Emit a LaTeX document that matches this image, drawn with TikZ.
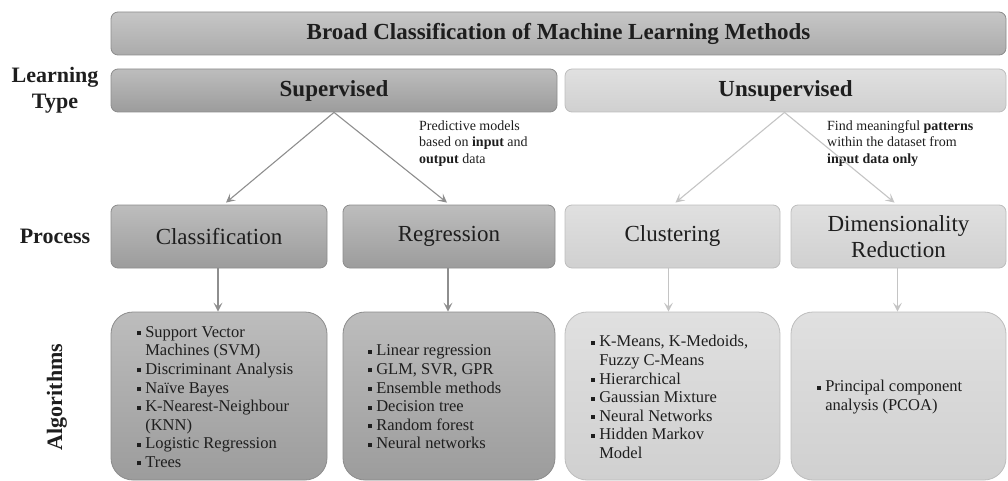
\documentclass[tikz,border=0pt]{standalone}
\usepackage{fontspec}
\setmainfont{Liberation Serif}
\usetikzlibrary{arrows.meta}
\definecolor{txt}{HTML}{1E1E1E}
\definecolor{supTop}{HTML}{BDBDBD}
\definecolor{supBot}{HTML}{9C9C9C}
\definecolor{supLine}{HTML}{8C8C8C}
\definecolor{titTop}{HTML}{C6C6C6}
\definecolor{titBot}{HTML}{ABABAB}
\definecolor{unTop}{HTML}{E0E0E0}
\definecolor{unBot}{HTML}{D0D0D0}
\definecolor{unLine}{HTML}{BDBDBD}
\definecolor{supArrow}{HTML}{8E8E8E}
\definecolor{unArrow}{HTML}{C4C4C4}
\newcommand{\sqb}{\raisebox{0.28ex}{\rule{0.24em}{0.24em}}}
\newcommand{\hang}{\phantom{\sqb\ }}
\tikzset{
  box/.style={draw, line width=0.8pt, inner sep=0pt, align=center, text=txt},
  titlebox/.style={box, draw=supLine, top color=titTop, bottom color=titBot, rounded corners=7pt},
  supbox/.style={box, draw=supLine, top color=supTop, bottom color=supBot, rounded corners=7pt},
  unbox/.style={box, draw=unLine, top color=unTop, bottom color=unBot, rounded corners=7pt},
  supalg/.style={box, draw=supLine, top color=supTop, bottom color=supBot, rounded corners=22pt},
  unalg/.style={box, draw=unLine, top color=unTop, bottom color=unBot, rounded corners=22pt},
  procfont/.style={font=\fontsize{23}{26}\selectfont},
  headfont/.style={font=\fontsize{23}{26}\selectfont\bfseries},
  listtext/.style={anchor=west, inner sep=0pt, align=left, text=txt, font=\fontsize{16.5}{18.6}\selectfont},
  note/.style={anchor=west, inner sep=0pt, align=left, text=txt, font=\fontsize{14}{16.5}\selectfont},
  sidelabel/.style={inner sep=0pt, align=center, text=txt, font=\fontsize{22}{26}\selectfont\bfseries},
  suparrow/.style={draw=supArrow, line width=1.1pt, -{Stealth[length=9pt,width=9pt,inset=4pt]}},
  unarrow/.style={draw=unArrow, line width=1.1pt, -{Stealth[length=9pt,width=9pt,inset=4pt]}},
}
\begin{document}
\begin{tikzpicture}[x=1pt,y=-1pt]
\useasboundingbox (0,0) rectangle (1008,481);
% top rows
\node[titlebox, headfont, minimum width=895, minimum height=43] (title) at (558.5,33.5) {Broad Classification of Machine Learning Methods};
\node[supbox, headfont, minimum width=446, minimum height=43] (sup) at (334,90.5) {Supervised};
\node[unbox, headfont, minimum width=441, minimum height=43] (uns) at (785.5,90.5) {Unsupervised};
% process
\node[supbox, procfont, minimum width=216, minimum height=63] (cls) at (219,236.5) {Classification};
\node[supbox, procfont, minimum width=212, minimum height=63] (reg) at (449,236.5) {Regression};
\node[unbox, procfont, minimum width=215, minimum height=63] (clu) at (672.5,236.5) {Clustering};
\node[unbox, procfont, minimum width=215, minimum height=63] (dim) at (898.5,236.5) {Dimensionality\\Reduction};
% algorithms
\node[supalg, minimum width=216, minimum height=168] (clsalg) at (219,396) {};
\node[supalg, minimum width=212, minimum height=168] (regalg) at (449,396) {};
\node[unalg, minimum width=215, minimum height=168] (clualg) at (672.5,396) {};
\node[unalg, minimum width=215, minimum height=168] (dimalg) at (898.5,396) {};
\node[listtext] (clslist) at (137,397) {\sqb\ Support Vector\\ \hang Machines (SVM)\\ \sqb\ Discriminant Analysis\\ \sqb\ Naïve Bayes\\ \sqb\ K-Nearest-Neighbour\\ \hang (KNN)\\ \sqb\ Logistic Regression\\ \sqb\ Trees};
\node[listtext] (reglist) at (368,397) {\sqb\ Linear regression\\ \sqb\ GLM, SVR, GPR\\ \sqb\ Ensemble methods\\ \sqb\ Decision tree\\ \sqb\ Random forest\\ \sqb\ Neural networks};
\node[listtext] (clulist) at (591,397) {\sqb\ K-Means, K-Medoids,\\ \hang Fuzzy C-Means\\ \sqb\ Hierarchical\\ \sqb\ Gaussian Mixture\\ \sqb\ Neural Networks\\ \sqb\ Hidden Markov\\ \hang Model};
\node[listtext] (dimlist) at (817,397) {\sqb\ Principal component\\ \hang analysis (PCOA)};
% side labels
\node[sidelabel] (lt) at (55,90) {Learning\\Type};
\node[sidelabel] (pr) at (55,236) {Process};
\node[sidelabel, rotate=90] (al) at (57,397) {Algorithms};
% notes
\node[note] (n1) at (419,143.5) {Predictive models\\based on \textbf{input} and\\\textbf{output} data};
\node[note] (n2) at (827,143.5) {Find meaningful \textbf{patterns}\\within the dataset from\\\textbf{input data only}};
% arrows
\draw[suparrow] (sup.south) -- ([xshift=7pt,yshift=2pt]cls.north);
\draw[suparrow] (sup.south) -- ([xshift=-2pt,yshift=2pt]reg.north);
\draw[unarrow] ([xshift=-1pt]uns.south) -- ([xshift=3pt,yshift=2pt]clu.north);
\draw[unarrow] ([xshift=-1pt]uns.south) -- ([xshift=-4pt,yshift=2pt]dim.north);
\draw[suparrow] ([xshift=-1pt]cls.south) -- ([xshift=-1pt]clsalg.north);
\draw[suparrow] ([xshift=-1pt]reg.south) -- ([xshift=-1pt]regalg.north);
\draw[unarrow] ([xshift=-4pt]clu.south) -- ([xshift=-4pt]clualg.north);
\draw[unarrow] ([xshift=-1pt]dim.south) -- ([xshift=-1pt]dimalg.north);
\end{tikzpicture}
\end{document}
